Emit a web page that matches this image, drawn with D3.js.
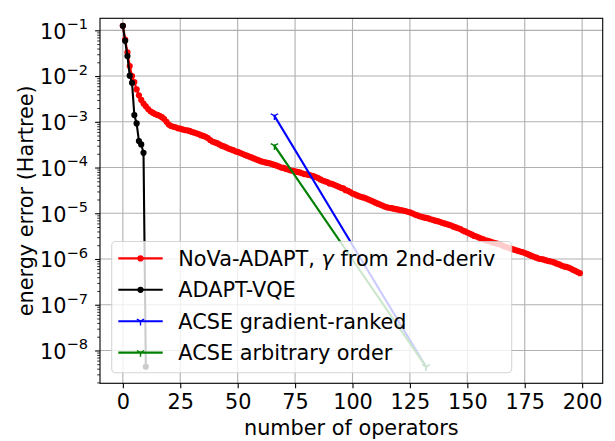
<!DOCTYPE html>
<html><head><meta charset="utf-8">
<script src="https://cdn.jsdelivr.net/npm/d3@7"></script>
<style>
body{margin:0;background:#fff}
svg{display:block}
text{font-family:"DejaVu Sans",sans-serif;fill:#000}
</style>
</head><body>
<svg id="c" width="615" height="441"></svg>
<script>
// ---------------- data ----------------
const novaX = d3.range(0, 200);
const novaY = [
1.26e-1, 6.3e-2, 3.3e-2, 1.66e-2, 1.0e-2, 7.4e-3, 5.1e-3, 3.8e-3, 3.0e-3, 2.5e-3,
2.19e-3, 1.9e-3, 1.7e-3, 1.58e-3, 1.48e-3, 1.41e-3, 1.35e-3, 1.26e-3, 1.15e-3, 1.0e-3,
8.7e-4, 8.1e-4, 7.8e-4, 7.6e-4, 7.2e-4, 7.1e-4, 6.8e-4, 6.6e-4, 6.5e-4, 6.3e-4,
6.0e-4, 5.8e-4, 5.6e-4, 5.4e-4, 5.1e-4, 4.9e-4, 4.7e-4, 4.4e-4, 4.0e-4, 3.7e-4,
3.55e-4, 3.4e-4, 3.2e-4, 3.0e-4, 2.9e-4, 2.75e-4, 2.6e-4, 2.5e-4, 2.4e-4, 2.26e-4,
2.19e-4, 2.1e-4, 2.0e-4, 1.9e-4, 1.82e-4, 1.74e-4, 1.66e-4, 1.58e-4, 1.51e-4, 1.45e-4,
1.38e-4, 1.33e-4, 1.29e-4, 1.26e-4, 1.23e-4, 1.19e-4, 1.14e-4, 1.1e-4, 1.05e-4, 1.0e-4,
9.8e-5, 9.3e-5, 9.0e-5, 8.7e-5, 8.5e-5, 8.3e-5, 8.0e-5, 7.8e-5, 7.5e-5, 7.2e-5,
7.1e-5, 6.9e-5, 6.7e-5, 6.5e-5, 6.2e-5, 5.9e-5, 5.5e-5, 5.2e-5, 5.0e-5, 4.8e-5,
4.5e-5, 4.4e-5, 4.2e-5, 4.0e-5, 3.8e-5, 3.6e-5, 3.5e-5, 3.2e-5, 3.1e-5, 2.9e-5,
2.7e-5, 2.6e-5, 2.45e-5, 2.35e-5, 2.26e-5, 2.19e-5, 2.1e-5, 2.0e-5, 1.9e-5, 1.8e-5,
1.7e-5, 1.62e-5, 1.55e-5, 1.48e-5, 1.4e-5, 1.35e-5, 1.32e-5, 1.29e-5, 1.26e-5, 1.23e-5,
1.2e-5, 1.17e-5, 1.15e-5, 1.12e-5, 1.08e-5, 1.05e-5, 1.0e-5, 9.5e-6, 9.1e-6, 8.7e-6,
8.4e-6, 8.1e-6, 7.9e-6, 7.7e-6, 7.4e-6, 7.2e-6, 6.9e-6, 6.7e-6, 6.5e-6, 6.2e-6,
6.0e-6, 5.8e-6, 5.6e-6, 5.4e-6, 5.1e-6, 4.9e-6, 4.7e-6, 4.5e-6, 4.2e-6, 4.0e-6,
3.8e-6, 3.6e-6, 3.4e-6, 3.2e-6, 3.1e-6, 2.95e-6, 2.8e-6, 2.7e-6, 2.57e-6, 2.5e-6,
2.4e-6, 2.3e-6, 2.24e-6, 2.16e-6, 2.1e-6, 2.0e-6, 1.9e-6, 1.82e-6, 1.76e-6, 1.68e-6,
1.62e-6, 1.57e-6, 1.51e-6, 1.46e-6, 1.41e-6, 1.35e-6, 1.29e-6, 1.23e-6, 1.17e-6, 1.12e-6,
1.07e-6, 1.02e-6, 1.0e-6, 9.8e-7, 9.4e-7, 9.1e-7, 8.9e-7, 8.7e-7, 8.3e-7, 7.9e-7,
7.6e-7, 7.2e-7, 6.9e-7, 6.7e-7, 6.5e-7, 6.2e-7, 5.8e-7, 5.5e-7, 5.2e-7, 4.9e-7
];
const adaptX = [0, 1, 2, 3, 4, 5, 6, 7, 8, 9, 10];
const adaptY = [1.26e-1, 5.9e-2, 2.74e-2, 1.02e-2, 7.1e-3, 1.4e-3, 9.2e-4, 3.8e-4, 3.2e-4, 2.1e-4, 4.4e-9];
const acseGradX = [66, 132];
const acseGradY = [1.35e-3, 4.4e-9];
const acseArbX = [66, 132];
const acseArbY = [3.0e-4, 4.4e-9];
const seriesNames = ["NoVa-ADAPT, γ from 2nd-deriv", "ADAPT-VQE", "ACSE gradient-ranked", "ACSE arbitrary order"];
const seriesColors = ["#ff0000", "#000000", "#0000ff", "#008000"];
const xTickValues = [0, 25, 50, 75, 100, 125, 150, 175, 200];
const yTickExponents = [-1, -2, -3, -4, -5, -6, -7, -8];
const xLabel = "number of operators";
const yLabel = "energy error (Hartree)";

// ---------------- layout ----------------
const L = 100, R = 602.7, T = 18.3, B = 383.3;
const FS = 20.8;
const svg = d3.select("#c");
const x = d3.scaleLinear().domain([-9.95, 208.95]).range([L, R]);
const y = d3.scaleLog().domain([Math.pow(10, -8.718), Math.pow(10, -0.737)]).range([B, T]);

const majorY = yTickExponents.map(e => Math.pow(10, e));
const minorY = [];
for (let e = -9; e <= 0; e++) for (let m = 2; m <= 9; m++) {
  const v = m * Math.pow(10, e);
  if (v > y.domain()[0] && v < y.domain()[1]) minorY.push(v);
}

// grid
const grid = svg.append("g");
grid.selectAll("line.gx").data(xTickValues).join("line")
  .attr("x1", d => x(d)).attr("x2", d => x(d)).attr("y1", T).attr("y2", B)
  .attr("stroke", "#b0b0b0").attr("stroke-width", 1.1);
grid.selectAll("line.gy").data(majorY).join("line")
  .attr("y1", d => y(d)).attr("y2", d => y(d)).attr("x1", L).attr("x2", R)
  .attr("stroke", "#b0b0b0").attr("stroke-width", 1.1);

// clip
svg.append("clipPath").attr("id", "clip").append("rect")
  .attr("x", L).attr("y", T).attr("width", R - L).attr("height", B - T);
const plot = svg.append("g").attr("clip-path", "url(#clip)");

const line = d3.line().x(d => x(d[0])).y(d => y(d[1]));
const tri = r => `M0,0L0,${r}M0,0L${-r*0.866},${-r*0.5}M0,0L${r*0.866},${-r*0.5}`;
const DOT_R = 3.1;

function drawSeries(xs, ys, color, marker) {
  const pts = xs.map((v, i) => [v, ys[i]]);
  plot.append("path").datum(pts).attr("d", line)
    .attr("fill", "none").attr("stroke", color).attr("stroke-width", 2.1)
    .attr("stroke-linejoin", "round").attr("stroke-linecap", "square");
  if (marker === "o") {
    plot.append("g").selectAll("circle").data(pts).join("circle")
      .attr("cx", d => x(d[0])).attr("cy", d => y(d[1])).attr("r", DOT_R).attr("fill", color);
  } else {
    plot.append("g").selectAll("path").data(pts).join("path")
      .attr("transform", d => `translate(${x(d[0])},${y(d[1])})`)
      .attr("d", tri(4.2)).attr("fill", "none").attr("stroke", color).attr("stroke-width", 1.4);
  }
}
drawSeries(novaX, novaY, seriesColors[0], "o");
drawSeries(adaptX, adaptY, seriesColors[1], "o");
drawSeries(acseGradX, acseGradY, seriesColors[2], "tri");
drawSeries(acseArbX, acseArbY, seriesColors[3], "tri");

// axes
const xAxis = d3.axisBottom(x).tickValues(xTickValues).tickSize(4.9).tickPadding(5).tickFormat(d3.format("d"));
const gx = svg.append("g").attr("transform", `translate(0,${B})`).call(xAxis);
gx.select(".domain").remove();
gx.selectAll(".tick line").attr("stroke", "#000").attr("stroke-width", 1.1);
gx.selectAll(".tick text").attr("font-size", FS).attr("font-family", "DejaVu Sans")
  .attr("dy", null).attr("y", 26.2);

const yMinorAxis = d3.axisLeft(y).tickValues(minorY).tickSize(2.8).tickFormat("");
const gym = svg.append("g").attr("transform", `translate(${L},0)`).call(yMinorAxis);
gym.select(".domain").remove();
gym.selectAll(".tick line").attr("stroke", "#000").attr("stroke-width", 0.8);

const yAxis = d3.axisLeft(y).tickValues(majorY).tickSize(4.9).tickFormat("");
const gy = svg.append("g").attr("transform", `translate(${L},0)`).call(yAxis);
gy.select(".domain").remove();
gy.selectAll(".tick line").attr("stroke", "#000").attr("stroke-width", 1.1);
gy.selectAll(".tick").each(function(d) {
  const e = Math.round(Math.log10(d));
  const t = d3.select(this).append("text").attr("x", -12).attr("y", 7.8)
    .attr("text-anchor", "end").attr("font-size", FS).attr("fill", "#000");
  t.append("tspan").text("10");
  t.append("tspan").attr("font-size", FS * 0.7).attr("dy", -9.5).text("\u2212" + Math.abs(e));
});

// spines
svg.append("rect").attr("x", L).attr("y", T).attr("width", R - L).attr("height", B - T)
  .attr("fill", "none").attr("stroke", "#000").attr("stroke-width", 1.1);

// labels
svg.append("text").attr("x", (L + R) / 2).attr("y", 434.5).attr("text-anchor", "middle")
  .attr("font-size", FS).text(xLabel);
svg.append("text").attr("transform", `translate(33.3,${(T + B) / 2}) rotate(-90)`)
  .attr("text-anchor", "middle").attr("font-size", FS).text(yLabel);

// legend
const lg = svg.append("g");
lg.append("rect").attr("x", 111.7).attr("y", 241.5).attr("width", 400).attr("height", 131.2)
  .attr("rx", 4).attr("ry", 4).attr("fill", "#fff").attr("fill-opacity", 0.8)
  .attr("stroke", "#cccccc").attr("stroke-opacity", 0.8).attr("stroke-width", 1.1);
const markers = ["o", "o", "tri", "tri"];
seriesNames.forEach((name, i) => {
  const ry = 258.4 + i * 31.4;
  lg.append("line").attr("x1", 118.3).attr("x2", 162.7).attr("y1", ry).attr("y2", ry)
    .attr("stroke", seriesColors[i]).attr("stroke-width", 2.1);
  if (markers[i] === "o") {
    lg.append("circle").attr("cx", 140.5).attr("cy", ry).attr("r", DOT_R).attr("fill", seriesColors[i]);
  } else {
    lg.append("path").attr("transform", `translate(140.5,${ry})`).attr("d", tri(4.2))
      .attr("fill", "none").attr("stroke", seriesColors[i]).attr("stroke-width", 1.4);
  }
  const t = lg.append("text").attr("x", 178.3).attr("y", ry + 7.4).attr("font-size", FS);
  if (name.indexOf("γ") >= 0) {
    const parts = name.split("γ");
    t.append("tspan").text(parts[0]);
    t.append("tspan").attr("font-style", "italic").text("γ");
    t.append("tspan").text(parts[1]);
  } else {
    t.text(name);
  }
});
</script>
</body></html>
